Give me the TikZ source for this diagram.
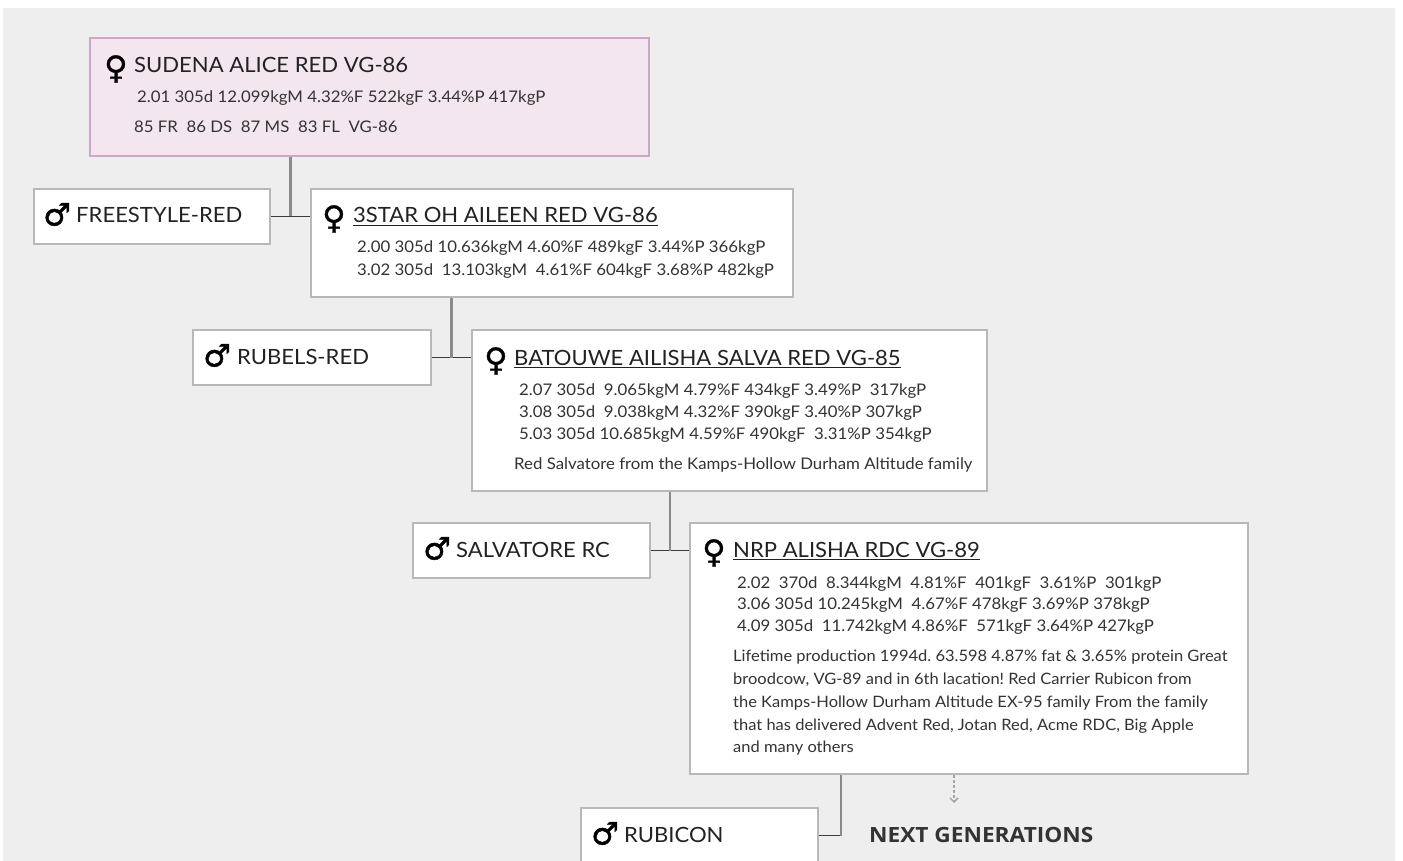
\documentclass[tikz,border=0pt]{standalone}
\usepackage{fontspec}
\setmainfont{Lato}[FakeStretch=1.05]
\newfontfamily\iconfont{DejaVu Sans Bold}[FakeBold=1.2]
\newfontfamily\nextfont{Open Sans}[FakeStretch=1.08]
\usetikzlibrary{arrows.meta,calc}
\frenchspacing
\definecolor{pagebg}{HTML}{EEEEEE}
\definecolor{boxline}{HTML}{B8B8B8}
\definecolor{rootfill}{HTML}{F3E6EF}
\definecolor{rootline}{HTML}{D0A3C9}
\definecolor{damcol}{HTML}{8A8A8A}
\definecolor{sirecol}{HTML}{3C3C3C}
\definecolor{titlecol}{HTML}{222222}
\definecolor{statcol}{HTML}{333333}
\tikzset{
  cowbox/.style={draw=boxline, line width=2pt, fill=white, anchor=north west, inner sep=0pt},
  rootbox/.style={cowbox, draw=rootline, fill=rootfill},
  cowname/.style={anchor=base west, inner sep=0pt, text=titlecol, font=\fontsize{21}{25}\selectfont},
  female/.style={anchor=base west, inner sep=0pt, text=black, yshift=-5.7pt, font=\iconfont\fontsize{32}{34}\selectfont},
  male/.style={anchor=base west, inner sep=0pt, text=black, yshift=-2.5pt, font=\iconfont\fontsize{31}{33}\selectfont},
  stat/.style={anchor=base west, inner sep=0pt, text=statcol, font=\fontsize{16}{20}\selectfont},
  note/.style={anchor=north west, inner sep=0pt, text=statcol, align=left, font=\fontsize{15.7}{22.75}\selectfont},
  damlink/.style={draw=damcol, line width=2.5pt},
  sirelink/.style={draw=sirecol, line width=1.5pt},
  nextlink/.style={draw=black!35, line width=1.5pt, densely dashed, -{Straight Barb[length=4pt,width=8pt]}},
}
\begin{document}
\begin{tikzpicture}[x=1pt,y=-1pt]
\useasboundingbox (0,0) rectangle (1403,861);
\fill[pagebg] (3,8) rectangle (1395,861);

% boxes
\node[rootbox, minimum width=559pt, minimum height=118pt] (sudena) at (89,37) {};
\node[cowbox, minimum width=236pt, minimum height=55pt] (freestyle) at (33,188) {};
\node[cowbox, minimum width=482pt, minimum height=108pt] (aileen) at (310,188) {};
\node[cowbox, minimum width=238pt, minimum height=55pt] (rubels) at (192,329) {};
\node[cowbox, minimum width=515pt, minimum height=161pt] (ailisha) at (471,329) {};
\node[cowbox, minimum width=237pt, minimum height=55pt] (salvatore) at (412,522) {};
\node[cowbox, minimum width=558pt, minimum height=251pt] (alisha) at (689,522) {};
\node[cowbox, minimum width=237pt, minimum height=55pt] (rubicon) at (580,807) {};

% connectors
\coordinate (j1) at ($(freestyle.east)!0.5!(aileen.west |- freestyle.east)$);
\coordinate (j2) at ($(rubels.east)!0.5!(ailisha.west |- rubels.east)$);
\coordinate (j3) at ($(salvatore.east)!0.5!(alisha.west |- salvatore.east)$);
\coordinate (j4) at ($(rubicon.east)+(22,0)$);
\draw[sirelink] (freestyle.east) -- (aileen.west |- freestyle.east);
\draw[sirelink] (rubels.east) -- (ailisha.west |- rubels.east);
\draw[sirelink] (salvatore.east) -- (alisha.west |- salvatore.east);
\draw[sirelink] (rubicon.east) -- (j4);
\draw[damlink] (sudena.south -| j1) -- (j1);
\draw[damlink] (aileen.south -| j2) -- (j2);
\draw[damlink] (ailisha.south -| j3) -- (j3);
\draw[damlink] (alisha.south -| j4) -- (j4);
\coordinate (nexttip) at (954,803);
\draw[nextlink] (alisha.south -| nexttip) -- (nexttip);

% SUDENA
\node[female] (sudenaicon) at (104,73) {♀};
\node[cowname] (sudenaname) at (134,73) {SUDENA ALICE RED VG-86};
\node[stat] (sudenastat) at (137,103) {2.01 305d 12.099kgM 4.32\%F 522kgF 3.44\%P 417kgP};
\node[stat] (sudenascore) at (134,133) {85 FR~ 86 DS~ 87 MS~ 83 FL~ VG-86};

% sires
\node[male] (freestyleicon) at (43,223) {♂};
\node[cowname] (freestylename) at (76,223) {FREESTYLE-RED};
\node[male] (rubelsicon) at (203,364) {♂};
\node[cowname] (rubelsname) at (237,364) {RUBELS-RED};
\node[male] (salvatoreicon) at (423,557) {♂};
\node[cowname] (salvatorename) at (456,557) {SALVATORE RC};
\node[male] (rubiconicon) at (591,842) {♂};
\node[cowname] (rubiconname) at (624,842) {RUBICON};

% 3STAR
\node[female] (aileenicon) at (322,223) {♀};
\node[cowname] (aileenname) at (353,223) {3STAR OH AILEEN RED VG-86};
\node[stat] (aileenstat1) at (357,252) {2.00 305d 10.636kgM 4.60\%F 489kgF 3.44\%P 366kgP};
\node[stat] (aileenstat2) at (357,275) {3.02 305d~ 13.103kgM~ 4.61\%F 604kgF 3.68\%P 482kgP};

% BATOUWE
\node[female] (ailishaicon) at (484,365) {♀};
\node[cowname] (ailishaname) at (514,365) {BATOUWE AILISHA SALVA RED VG-85};
\node[stat] (ailishastat1) at (519,395) {2.07 305d~ 9.065kgM 4.79\%F 434kgF 3.49\%P~ 317kgP};
\node[stat] (ailishastat2) at (519,417) {3.08 305d~ 9.038kgM 4.32\%F 390kgF 3.40\%P 307kgP};
\node[stat] (ailishastat3) at (519,439) {5.03 305d 10.685kgM 4.59\%F 490kgF~ 3.31\%P 354kgP};
\node[stat] (ailishanote) at (514,469) {Red Salvatore from the Kamps-Hollow Durham Altitude family};

% NRP
\node[female] (alishaicon) at (702,557) {♀};
\node[cowname] (alishaname) at (733,557) {NRP ALISHA RDC VG-89};
\node[stat] (alishastat1) at (737,588) {2.02~ 370d~ 8.344kgM~ 4.81\%F~ 401kgF~ 3.61\%P~ 301kgP};
\node[stat] (alishastat2) at (737,609.5) {3.06 305d 10.245kgM~ 4.67\%F 478kgF 3.69\%P 378kgP};
\node[stat] (alishastat3) at (737,631) {4.09 305d~ 11.742kgM 4.86\%F~ 571kgF 3.64\%P 427kgP};
\node[note] (alishanote) at (733,650) {Lifetime production 1994d. 63.598 4.87\% fat \& 3.65\% protein Great\\
broodcow, VG-89 and in 6th lacation! Red Carrier Rubicon from\\
the Kamps-Hollow Durham Altitude EX-95 family From the family\\
that has delivered Advent Red, Jotan Red, Acme RDC, Big Apple\\
and many others};

\foreach \n in {aileenname,ailishaname,alishaname}
  \draw[titlecol, line width=1.3pt] ([yshift=-2.5pt]\n.base west) -- ([yshift=-2.5pt]\n.base east);

\node[anchor=base west, inner sep=0pt, text=statcol, font=\nextfont\bfseries\fontsize{21}{24}\selectfont] (nextgen) at (869,842) {NEXT GENERATIONS};

\end{tikzpicture}
\end{document}
